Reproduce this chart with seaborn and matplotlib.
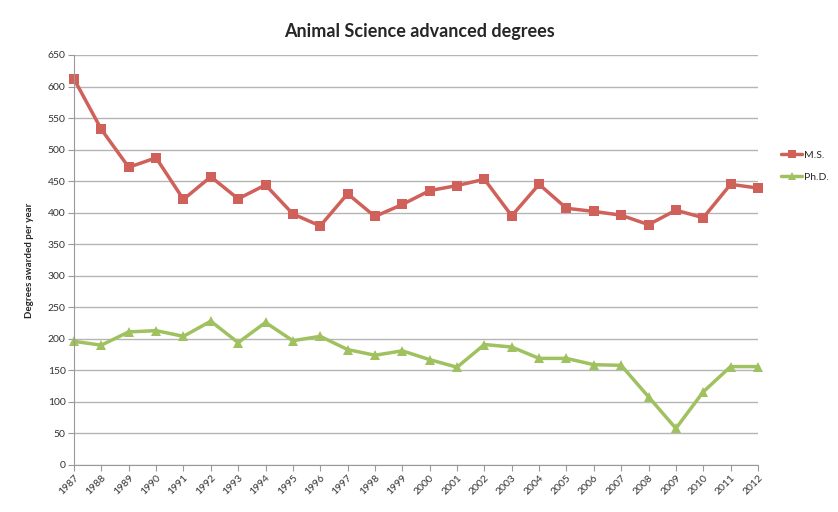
import pandas as pd
import numpy as np
import matplotlib
matplotlib.use('Agg')
import matplotlib.pyplot as plt
import seaborn as sns

# Data
years = list(range(1987, 2013))
ms_degrees = [612, 532, 472, 487, 421, 457, 422, 444, 398, 379, 430, 394, 413,
              435, 443, 453, 395, 445, 407, 402, 396, 381, 404, 392, 445, 439]
phd_degrees = [196, 190, 211, 213, 204, 228, 194, 226, 197, 204, 183, 174, 181,
               167, 155, 191, 187, 169, 169, 159, 158, 108, 58, 116, 156, 156]
series_names = ['M.S.', 'Ph.D.']

df = pd.DataFrame({
    'Year': years * 2,
    'Degrees': ms_degrees + phd_degrees,
    'Degree': [series_names[0]] * len(years) + [series_names[1]] * len(years),
})

sns.set_theme(style='white')
plt.rcParams['font.family'] = ['Lato', 'DejaVu Sans']

fig = plt.figure(figsize=(8.38, 5.12), dpi=100)
ax = fig.add_axes([0.0883, 0.0918, 0.8162, 0.8008])

palette = {'M.S.': '#D0605A', 'Ph.D.': '#A0C15F'}
sns.lineplot(data=df, x='Year', y='Degrees', hue='Degree', style='Degree',
             markers={'M.S.': 's', 'Ph.D.': '^'}, dashes=False, palette=palette,
             linewidth=2.5, markersize=7, markeredgewidth=0, ax=ax)
# keep the end markers whole
for line in ax.lines:
    line.set_clip_on(False)

ax.set_xlim(1987, 2012)
ax.set_ylim(0, 650)
ax.set_yticks(np.arange(0, 651, 50))
ax.set_xticks(years)
ax.set_xticklabels([str(y) for y in years], rotation=45, ha='right',
                   rotation_mode='anchor', fontsize=7.5, color='#333333')
ax.tick_params(axis='y', labelsize=7.5, labelcolor='#333333')
ax.tick_params(axis='both', which='major', direction='out', length=4,
               width=0.8, color='#999999', left=True, bottom=True, pad=2)
ax.grid(axis='y', color='#B5B5B5', linewidth=1)
ax.set_axisbelow(True)
for side in ['top', 'right']:
    ax.spines[side].set_visible(False)
for side in ['left', 'bottom']:
    ax.spines[side].set_color('#999999')
    ax.spines[side].set_linewidth(0.8)

ax.set_xlabel('')
ax.set_ylabel('Degrees awarded per year', fontsize=7, fontweight='bold', labelpad=10)
fig.suptitle('Animal Science advanced degrees', x=0.5, y=0.955,
             fontsize=13, fontweight='bold')

handles, labels = ax.get_legend_handles_labels()
ax.legend_.remove()
fig.legend(handles, labels, loc='upper left', bbox_to_anchor=(0.925, 0.718),
           frameon=False, fontsize=7.5, handlelength=2.0, handletextpad=0.2,
           labelspacing=1.2, markerscale=0.9, borderaxespad=0.2)

fig.savefig('out.png', dpi=100)
